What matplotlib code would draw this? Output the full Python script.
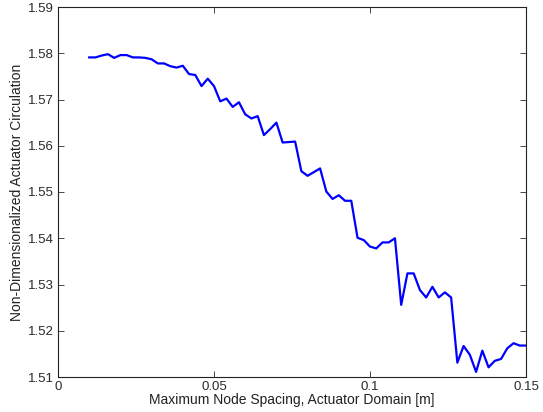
import matplotlib
matplotlib.use("Agg")
import matplotlib.pyplot as plt

spacing = [0.010, 0.012, 0.014, 0.016, 0.018, 0.020, 0.022, 0.024, 0.026, 0.028,
           0.030, 0.032, 0.034, 0.036, 0.038, 0.040, 0.042, 0.044, 0.046, 0.048,
           0.050, 0.052, 0.054, 0.056, 0.058, 0.060, 0.062, 0.064, 0.066, 0.068,
           0.070, 0.072, 0.074, 0.076, 0.078, 0.080, 0.082, 0.084, 0.086, 0.088,
           0.090, 0.092, 0.094, 0.096, 0.098, 0.100, 0.102, 0.104, 0.106, 0.108,
           0.110, 0.112, 0.114, 0.116, 0.118, 0.120, 0.122, 0.124, 0.126, 0.128,
           0.130, 0.132, 0.134, 0.136, 0.138, 0.140, 0.142, 0.144, 0.146, 0.148,
           0.150]
circulation = [1.5791, 1.5791, 1.5795, 1.5798, 1.5790, 1.5796, 1.5796, 1.5791, 1.5791, 1.5790,
               1.5787, 1.5778, 1.5778, 1.5772, 1.5769, 1.5773, 1.5755, 1.5753, 1.5729, 1.5745,
               1.5729, 1.5696, 1.5702, 1.5684, 1.5694, 1.5668, 1.5659, 1.5664, 1.5623, 1.5636,
               1.5650, 1.5607, 1.5608, 1.5609, 1.5545, 1.5535, 1.5543, 1.5551, 1.5501, 1.5485,
               1.5493, 1.5481, 1.5481, 1.5401, 1.5396, 1.5382, 1.5378, 1.5391, 1.5391, 1.5400,
               1.5256, 1.5324, 1.5324, 1.5288, 1.5272, 1.5295, 1.5272, 1.5283, 1.5272, 1.5131,
               1.5167, 1.5148, 1.5111, 1.5157, 1.5121, 1.5135, 1.5139, 1.5162, 1.5173, 1.5168,
               1.5168]

xticks = [0, 0.05, 0.1, 0.15]
xticklabels = ["0", "0.05", "0.1", "0.15"]
yticks = [1.51, 1.52, 1.53, 1.54, 1.55, 1.56, 1.57, 1.58, 1.59]
yticklabels = ["1.51", "1.52", "1.53", "1.54", "1.55", "1.56", "1.57", "1.58", "1.59"]

plt.rcParams['font.family'] = ['Liberation Sans', 'DejaVu Sans']

fig = plt.figure(figsize=(5.43, 4.12), dpi=100)
ax = fig.add_axes([58/543, 35/412, 468/543, 370/412])
ax.plot(spacing, circulation, color=(0, 0, 1), linewidth=1.6)
ax.set_xlim(0, 0.15)
ax.set_ylim(1.51, 1.59)
ax.set_xticks(xticks)
ax.set_xticklabels(xticklabels)
ax.set_yticks(yticks)
ax.set_yticklabels(yticklabels)
ax.tick_params(direction='in', top=True, right=True, length=4, width=0.6,
               labelsize=9.5, colors='#2a2a2a', pad=3)
for s in ax.spines.values():
    s.set_linewidth(0.8)
    s.set_color('#222222')
ax.set_xlabel("Maximum Node Spacing, Actuator Domain [m]", fontsize=10, labelpad=0,
              color='#222222')
ax.set_ylabel("Non-Dimensionalized Actuator Circulation", fontsize=10, labelpad=3,
              color='#222222')
fig.savefig("out.png", dpi=100)
